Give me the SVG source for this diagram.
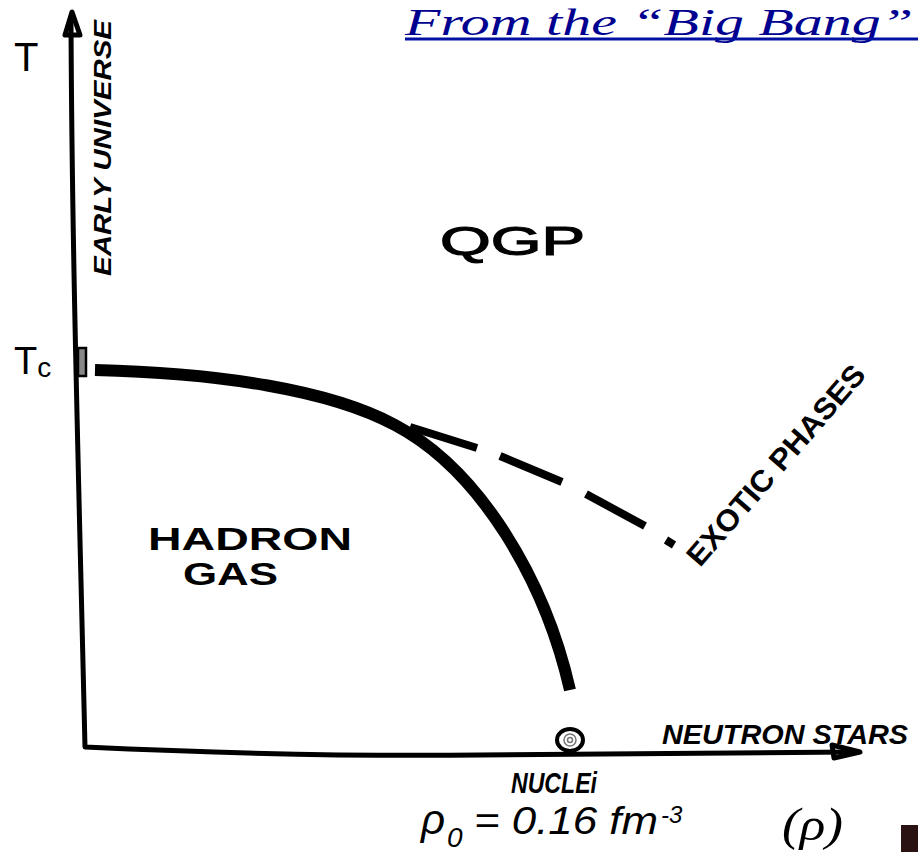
<svg xmlns="http://www.w3.org/2000/svg" width="918" height="852" viewBox="0 0 918 852">
<style>
.hand{font-family:"Liberation Sans",Arial,sans-serif;font-weight:bold;fill:#000}
.thin{font-family:"Liberation Sans",Arial,sans-serif;font-weight:normal;fill:#000}
.ax{fill:none;stroke:#000;stroke-width:5;stroke-linecap:round;stroke-linejoin:round}
.dash{stroke:#000;stroke-width:8;stroke-linecap:butt}
.f{font-family:"Liberation Sans",Arial,sans-serif;font-style:italic;fill:#000}
</style>
<rect width="918" height="852" fill="#fff"/>
<g id="title">
<text x="405" y="35" font-family="'Liberation Serif',serif" font-style="italic" font-size="38" fill="#000090" textLength="508" lengthAdjust="spacingAndGlyphs">From the “Big Bang”</text>
<line x1="405" y1="39" x2="918" y2="39" stroke="#0010a0" stroke-width="3"/>
</g>
<g id="axes">
<path class="ax" d="M71,22 C72,250 78,450 85,747 Q300,757 480,755 L852,752"/>
<path class="ax" d="M72,12 L65,35 L80,35 Z" stroke-width="4"/>
<path class="ax" d="M860,752 L832,745 L834,758 Z" stroke-width="4"/>
<rect x="78" y="348" width="8" height="28" fill="#888" stroke="#000" stroke-width="2.5"/>
</g>
<g id="labels-axes">
<text x="14" y="71" font-family="'Liberation Sans',sans-serif" font-size="40">T</text>
<text x="14" y="374" font-family="'Liberation Sans',sans-serif" font-size="38">T<tspan font-size="28" dy="3">c</tspan></text>
<text class="hand" transform="translate(111,276) rotate(-90)" font-size="24" font-style="italic" textLength="256" lengthAdjust="spacingAndGlyphs">EARLY UNIVERSE</text>
</g>
<g id="curves">
<path d="M95,370 C220,373 330,390 395,425 C480,470 545,580 570,690" fill="none" stroke="#000" stroke-width="12"/>
<line class="dash" x1="410" y1="427" x2="477" y2="448"/>
<line class="dash" x1="500" y1="456" x2="562" y2="482"/>
<line class="dash" x1="586" y1="494" x2="645" y2="526"/>
<line class="dash" x1="666" y1="540" x2="674" y2="545"/>
</g>
<g id="nucleus">
<ellipse cx="570" cy="740" rx="13" ry="11" fill="#fff" stroke="#000" stroke-width="4"/>
<circle cx="570" cy="740" r="6" fill="none" stroke="#777" stroke-width="1.5"/>
<circle cx="570" cy="740" r="2.5" fill="none" stroke="#777" stroke-width="1.5"/>
</g>
<g id="regions">
<text class="thin" x="440" y="255" font-size="40" stroke="#000" stroke-width="1.2" textLength="145" lengthAdjust="spacingAndGlyphs">QGP</text>
<text class="hand" x="148" y="550" font-size="32" textLength="204" lengthAdjust="spacingAndGlyphs">HADRON</text>
<text class="hand" x="183" y="585" font-size="32" textLength="95" lengthAdjust="spacingAndGlyphs">GAS</text>
<text class="hand" transform="translate(700,568) rotate(-49)" font-size="30" textLength="255" lengthAdjust="spacingAndGlyphs">EXOTIC PHASES</text>
<text class="hand" x="662" y="744" font-size="28" font-style="italic" textLength="246" lengthAdjust="spacingAndGlyphs">NEUTRON STARS</text>
<text class="hand" x="511" y="793" font-size="30" font-style="italic" textLength="86" lengthAdjust="spacingAndGlyphs">NUCLEi</text>
</g>
<g id="formula">
<text class="f" x="421" y="834" font-size="42">ρ</text>
<text class="f" x="447" y="847" font-size="28">0</text>
<text class="f" x="474" y="834" font-size="39" textLength="184" lengthAdjust="spacingAndGlyphs">= 0.16 fm</text>
<text class="f" x="661" y="823" font-size="24">-3</text>
<text x="782" y="840" font-family="'Liberation Serif',serif" font-style="italic" font-size="46" textLength="61" lengthAdjust="spacingAndGlyphs">(ρ)</text>
</g>
<rect x="901" y="825" width="17" height="27" fill="#2a1212"/>
</svg>
